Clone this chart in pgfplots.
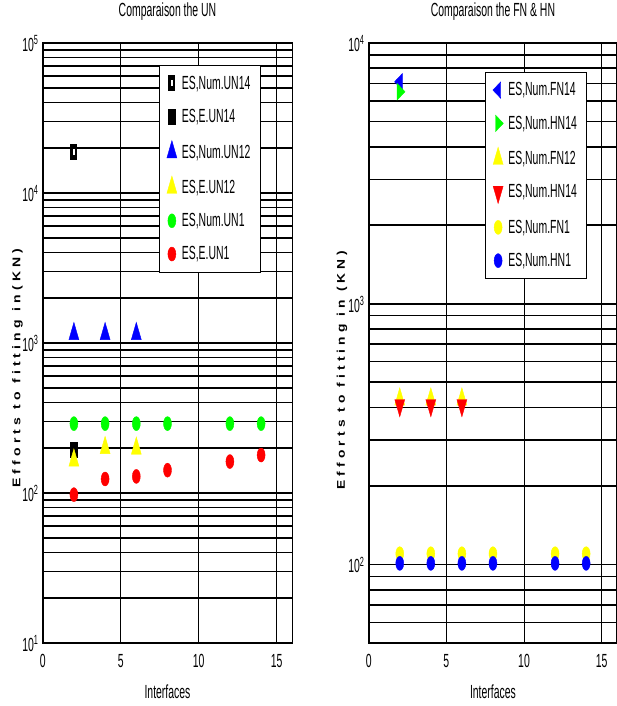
\documentclass[border=0pt]{standalone}
\usepackage{graphicx}
\usepackage{pgfplots}
\pgfplotsset{compat=1.18}
\usepackage{fontspec}
\setmainfont{Liberation Sans}
\newfontfamily\labfont[LetterSpace=30]{Liberation Sans}
\newcommand\sq[1]{\scalebox{1.045}[1.9]{#1}}
\newcommand\ylab[1]{\resizebox{239pt}{1.12\height}{\labfont\bfseries #1}}
\definecolor{mblue}{RGB}{0,0,255}
\definecolor{mgreen}{RGB}{0,255,0}
\definecolor{mred}{RGB}{255,0,0}
\definecolor{myellow}{RGB}{255,255,0}
\pgfdeclareplotmark{boxdot}{%
  \pgfpathrectangle{\pgfpoint{-3.5pt}{-8pt}}{\pgfpoint{7pt}{16pt}}%
  \pgfusepathqfill
  \begin{pgfscope}\pgfsetfillcolor{white}%
  \pgfpathrectangle{\pgfpoint{-1pt}{-3pt}}{\pgfpoint{2pt}{6pt}}%
  \pgfusepathqfill\end{pgfscope}}
\tikzset{
 tri/.style={mark=triangle*, mark size=11.5pt, color=#1, mark options={fill=#1, draw=#1, line width=0.4pt, xscale=0.5}},
 ell/.style={mark=*, mark size=7pt, color=#1, mark options={fill=#1, draw=#1, line width=0.4pt, xscale=0.57}},
}
\pgfplotsset{
 every axis/.append style={
 scale only axis, height=600pt, ymode=log, xmin=0, xmax=16,
 xtick={0,5,10,15}, xticklabels={\sq{0},\sq{5},\sq{10},\sq{15}},
 xmajorgrids, ymajorgrids,
 major x grid style={black, line width=0.7pt},
 major y grid style={black, line width=1.6pt},
 axis line style={black, line width=1.6pt},
 tick align=inside, major tick length=3pt,
 tick style={black, line width=0.6pt},
 yticklabel style={anchor=base east, yshift=-8.5pt, inner sep=0pt, xshift=-4pt},
 xticklabel style={anchor=north, inner sep=0pt, yshift=-11pt},
 xlabel style={at={(axis description cs:0.5,-0.0817)}, anchor=center},
 title style={at={(axis description cs:0.5,1.0417)}, anchor=center},
 ylabel style={anchor=center, inner sep=0pt},
 legend cell align=left,
 legend style={draw=black, line width=0.8pt, fill=white, anchor=north west, row sep=14.5pt, column sep=3pt, inner xsep=7.5pt, inner ysep=8.5pt, nodes={inner sep=2pt}},
 only marks,
 }
}
\begin{document}
\begin{tikzpicture}
\path[use as bounding box] (0pt,0pt) rectangle (616pt,706pt);
\begin{axis}[at={(42.7pt,63pt)}, anchor=south west, width=249.6pt,
  ymin=10, ymax=100000,
  ytick={10,20,30,40,50,60,70,80,90,100,200,300,400,500,600,700,800,900,1000,2000,3000,4000,5000,6000,7000,8000,9000,10000,20000,30000,40000,50000,60000,70000,80000,90000,100000},
  yticklabels={\sq{10\textsuperscript{1}},{},{},{},{},{},{},{},{},\sq{10\textsuperscript{2}},{},{},{},{},{},{},{},{},\sq{10\textsuperscript{3}},{},{},{},{},{},{},{},{},\sq{10\textsuperscript{4}},{},{},{},{},{},{},{},{},\sq{10\textsuperscript{5}}},
  title={\sq{Comparaison the UN}},
  xlabel={\sq{Interfaces}},
  ylabel={\ylab{Efforts to fitting in(KN)}},
  ylabel style={at={(axis description cs:-0.101,0.458)}},
  legend style={at={(axis description cs:0.466,0.963)}},
]
\addplot[mark=boxdot, color=black, mark options={fill=black, line width=0.4pt}] coordinates {(2,18700)};
\addlegendentry{\sq{ES,Num.UN14}}
\addplot[mark=square*, color=black, mark size=7.5pt, mark options={fill=black, line width=0.4pt, xscale=0.47}] coordinates {(2,195)};
\addlegendentry{\sq{ES,E.UN14}}
\addplot[tri=mblue] coordinates {(2,1150) (4,1150) (6,1150)};
\addlegendentry{\sq{ES,Num.UN12}}
\addplot[tri=myellow] coordinates {(2,165) (4,200) (6,198)};
\addlegendentry{\sq{ES,E.UN12}}
\addplot[ell=mgreen] coordinates {(2,290) (4,290) (6,290) (8,290) (12,290) (14,290)};
\addlegendentry{\sq{ES,Num.UN1}}
\addplot[ell=mred] coordinates {(2,97.5) (4,124) (6,129) (8,142) (12,162) (14,179)};
\addlegendentry{\sq{ES,E.UN1}}
\end{axis}
\begin{axis}[at={(368.7pt,63pt)}, anchor=south west, width=248.5pt,
  ymin=50, ymax=10000,
  ytick={60,70,80,90,100,200,300,400,500,600,700,800,900,1000,2000,3000,4000,5000,6000,7000,8000,9000,10000},
  yticklabels={{},{},{},{},\sq{10\textsuperscript{2}},{},{},{},{},{},{},{},{},\sq{10\textsuperscript{3}},{},{},{},{},{},{},{},{},\sq{10\textsuperscript{4}}},
  title={\sq{Comparaison the FN \& HN}},
  xlabel={\sq{Interfaces}},
  ylabel={\ylab{Efforts to fitting in (KN)}},
  ylabel style={at={(axis description cs:-0.107,0.455)}},
  legend style={at={(axis description cs:0.468,0.952)}},
]
\addplot[mark=triangle*, mark size=9.5pt, color=mblue, mark options={fill=mblue, draw=mblue, line width=0.4pt, xscale=0.55, rotate=90}] coordinates {(2,7100)};
\addlegendentry{\sq{ES,Num.FN14}}
\addplot[mark=triangle*, mark size=9.5pt, color=mgreen, mark options={fill=mgreen, draw=mgreen, line width=0.4pt, xscale=0.55, rotate=-90}] coordinates {(2,6500)};
\addlegendentry{\sq{ES,Num.HN14}}
\addplot[tri=myellow] coordinates {(2,430) (4,430) (6,430)};
\addlegendentry{\sq{ES,Num.FN12}}
\addplot[mark=triangle*, mark size=11.5pt, color=mred, mark options={fill=mred, draw=mred, line width=0.4pt, xscale=0.5, rotate=180}] coordinates {(2,408) (4,408) (6,408)};
\addlegendentry{\sq{ES,Num.HN14}}
\addplot[ell=myellow] coordinates {(2,110) (4,110) (6,110) (8,110) (12,110) (14,110)};
\addlegendentry{\sq{ES,Num.FN1}}
\addplot[ell=mblue] coordinates {(2,101) (4,101) (6,101) (8,101) (12,101) (14,101)};
\addlegendentry{\sq{ES,Num.HN1}}
\end{axis}
\end{tikzpicture}
\end{document}
